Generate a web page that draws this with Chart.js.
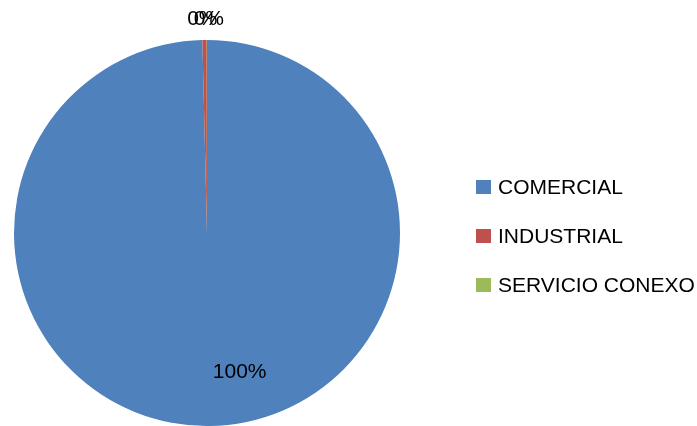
<!DOCTYPE html>
<html>
<head>
<meta charset="utf-8">
<script src="https://cdn.jsdelivr.net/npm/chart.js@4.4.0/dist/chart.umd.min.js"></script>
<style>
  html, body { margin: 0; padding: 0; background: #fff; }
  #wrap { width: 697px; height: 426px; position: relative; }
</style>
</head>
<body>
<div id="wrap"><canvas id="myChart"></canvas></div>
<script>
// datos del grafico
const categories = ['COMERCIAL', 'INDUSTRIAL', 'SERVICIO CONEXO']
const values = [99.62, 0.36, 0.02]
const colors = ['#4F81BD', '#C0504D', '#9BBB59']

const FONT = '"Liberation Sans", Arial, sans-serif'

// etiquetas de porcentaje (las pequeñas van fuera, algo separadas)
const labelShift = [31, -2, 2]
const pctLabels = {
    id: 'pctLabels',
    afterDatasetsDraw(chart) {
        const ctx = chart.ctx
        const meta = chart.getDatasetMeta(0)
        const total = values.reduce((a, b) => a + b, 0)
        ctx.save()
        ctx.font = '21px ' + FONT
        ctx.fillStyle = '#000'
        ctx.textAlign = 'center'
        ctx.textBaseline = 'middle'
        meta.data.forEach(function (arc, i) {
            const pct = Math.round((values[i] / total) * 100)
            const mid = (arc.startAngle + arc.endAngle) / 2
            const r = pct >= 50 ? arc.outerRadius * 0.72 : arc.outerRadius + 21
            const x = arc.x + Math.cos(mid) * r + labelShift[i]
            const y = arc.y + Math.sin(mid) * r
            ctx.fillText(pct + '%', x, y)
        })
        ctx.restore()
    },
}

// leyenda a la derecha
const sideLegend = {
    id: 'sideLegend',
    afterDraw(chart) {
        const ctx = chart.ctx
        ctx.save()
        ctx.font = '21px ' + FONT
        ctx.textBaseline = 'middle'
        categories.forEach(function (name, i) {
            const y = 187 + i * 49
            ctx.fillStyle = colors[i]
            ctx.fillRect(476, y - 7, 15, 14)
            ctx.fillStyle = '#000'
            ctx.fillText(name, 498, y + 1)
        })
        ctx.restore()
    },
}

const ctx = document.getElementById('myChart').getContext('2d')
const myChart = new Chart(ctx, {
    type: 'pie',
    data: {
        labels: categories,
        datasets: [
            {
                data: values,
                backgroundColor: colors,
                borderWidth: 0,
            },
        ],
    },
    options: {
        responsive: true,
        maintainAspectRatio: false,
        animation: false,
        layout: {
            padding: { left: 14, right: 297, top: 40, bottom: 0 },
        },
        plugins: {
            legend: { display: false },
            tooltip: { enabled: false },
        },
    },
    plugins: [pctLabels, sideLegend],
})
</script>
</body>
</html>
